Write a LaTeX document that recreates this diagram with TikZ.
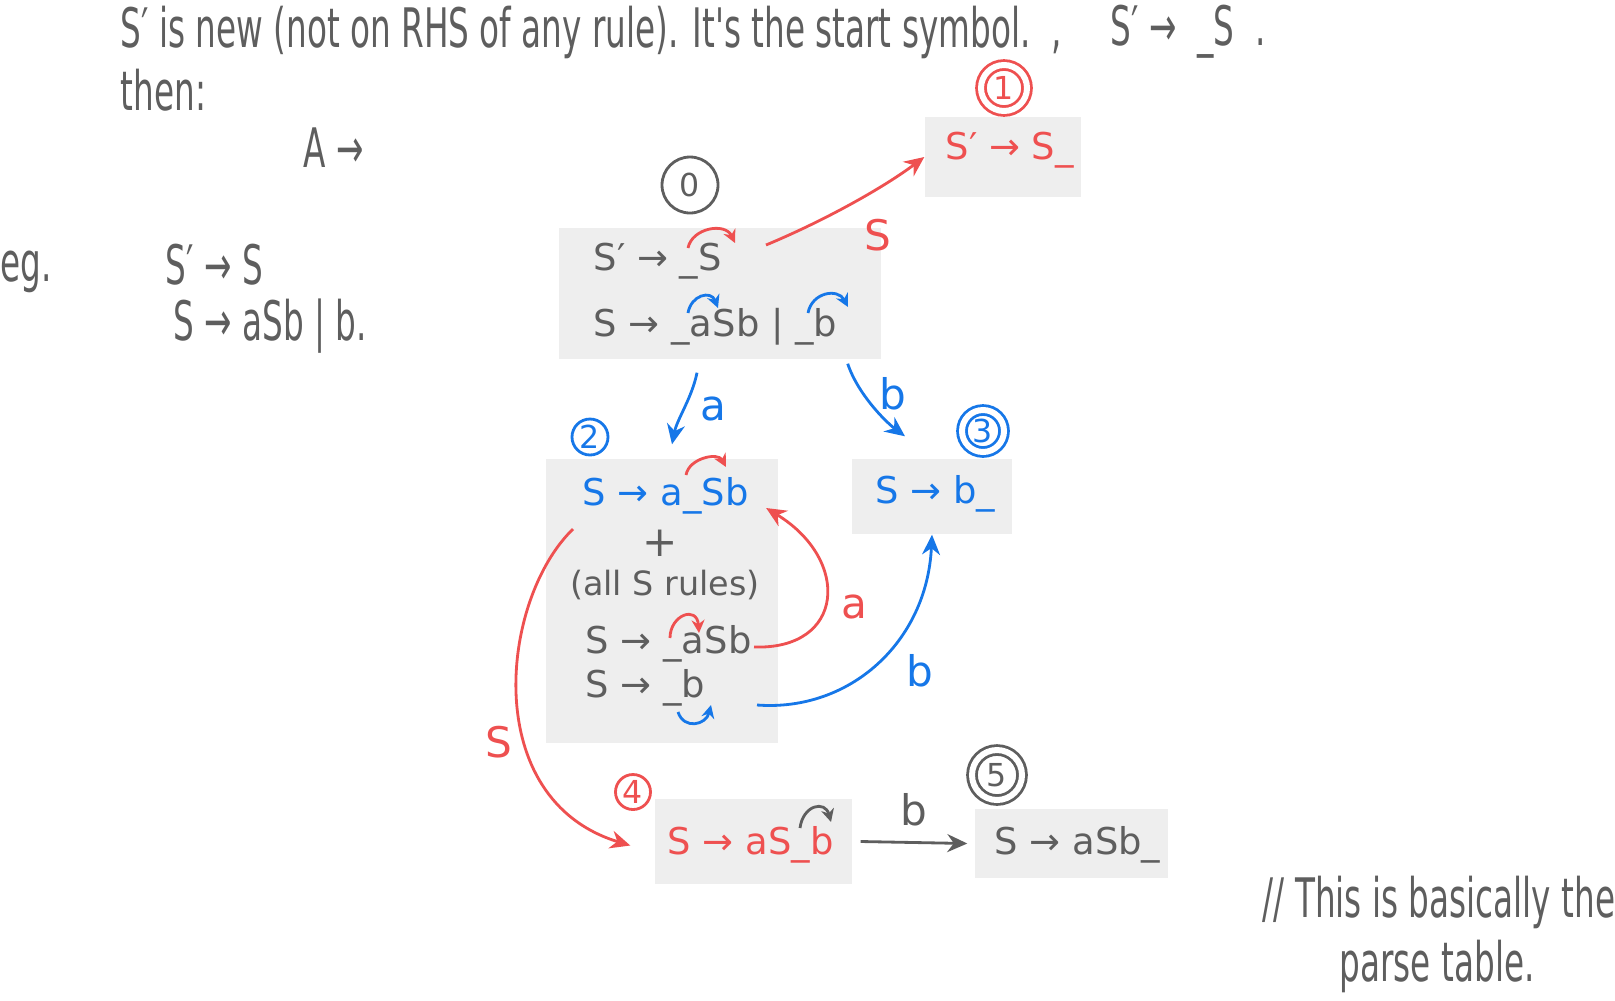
\documentclass[tikz,border=0pt]{standalone}
\usepackage{fontspec}
\setmainfont{DejaVu Sans}
\newfontfamily\notefont{DejaVu Sans}[FakeStretch=0.6]
\usetikzlibrary{positioning,arrows.meta}

\definecolor{ink}{HTML}{5E5E5E}
\definecolor{inkred}{HTML}{EE5050}
\definecolor{inkblue}{HTML}{1677E8}
\definecolor{itembg}{HTML}{EEEEEE}

\begin{document}
\begin{tikzpicture}[x=0.1mm, y=-0.1mm,
  >={Stealth[length=2mm, width=1.8mm]},
  itembox/.style={fill=itembg, inner sep=0pt},
  rule/.style={anchor=west, inner sep=0pt, font=\fontsize{10.5}{12}\selectfont},
  note/.style={anchor=west, inner sep=0pt, text=ink, font=\notefont\fontsize{15.5}{18}\selectfont},
  tag/.style={circle, draw, line width=0.8pt, inner sep=0pt, font=\fontsize{9}{10}\selectfont},
  dbltag/.style={tag, double, double distance=0.6mm},
  conn/.style={->, line width=0.8pt},
  lbl/.style={inner sep=0pt, font=\fontsize{12}{14}\selectfont},
  dotarc/.style={-{Stealth[length=1.3mm, width=1.3mm]}, line width=0.8pt}]
  \useasboundingbox (0,0) rectangle (1615,1000);

  % notes
  \node[note] (intro) at (120,32) {S′ is new (not on RHS of any rule). It's the start symbol.\ \ ,};
  \node[note] (augrule) at (1110,32) {S′\ →\ \ \_S\ \ .};
  \node[note] (then) at (120,90) {then:};
  \node[note] (itemform) at (303,148) {A →};
  \node[note] (eg) at (0,272) {eg.};
  \node[note] (gram1) at (165,265) {S′ → S};
  \node[note] (gram2) at (173,326) {S → aSb | b.};
  \node[note] (remark1) at (1262,902) {// This is basically the};
  \node[note] (remark2) at (1339,966) {parse table.};

  % item sets
  \node[itembox, minimum width=32.2mm, minimum height=13.1mm] (st0) at (720,293.5) {};
  \node[itembox, minimum width=15.6mm, minimum height=8mm] (st1) at (1003,157) {};
  \node[itembox, minimum width=23.2mm, minimum height=28.4mm] (st2) at (662,601) {};
  \node[itembox, minimum width=16mm, minimum height=7.5mm] (st3) at (932,496.5) {};
  \node[itembox, minimum width=19.7mm, minimum height=8.5mm] (st4) at (753.5,841.5) {};
  \node[itembox, minimum width=19.3mm, minimum height=6.9mm] (st5) at (1071.5,843.5) {};

  \node[rule, text=ink] (r0a) at (593,261) {S′ → \_S};
  \node[rule, text=ink] (r0b) at (593,327) {S → \_aSb | \_b};
  \node[rule, text=inkred] (r1) at (945,150) {S′ → S\_};
  \node[rule, text=inkblue] (r2a) at (582,496) {S → a\_Sb};
  \node[inner sep=0pt, text=ink, font=\fontsize{12}{14}\selectfont] (plus) at (660,543) {+};
  \node[inner sep=0pt, text=ink, font=\fontsize{9.5}{11}\selectfont] (allrules) at (665,585) {(all S rules)};
  \node[rule, text=ink] (r2b) at (585,644) {S → \_aSb};
  \node[rule, text=ink] (r2c) at (585,688) {S → \_b};
  \node[rule, text=inkblue] (r3) at (875,494) {S → b\_};
  \node[rule, text=inkred] (r4) at (667,845) {S → aS\_b};
  \node[rule, text=ink] (r5) at (994,845) {S → aSb\_};

  % state numbers
  \node[tag, ink, minimum size=5.6mm] (tag0) at (690,185) {0};
  \node[dbltag, inkred, minimum size=4.6mm] (tag1) at (1004,88) {1};
  \node[tag, inkblue, minimum size=3.6mm] (tag2) at (590,437) {2};
  \node[dbltag, inkblue, minimum size=4.2mm] (tag3) at (983,431) {3};
  \node[tag, inkred, minimum size=3.5mm] (tag4) at (633,792) {4};
  \node[dbltag, ink, minimum size=5mm] (tag5) at (997,775) {5};

  % dot moves
  \draw[dotarc, inkred] (688,248) .. controls (692,228) and (725,222) .. (735,243);
  \draw[dotarc, inkblue] (688,313) .. controls (691,295) and (711,290) .. (718,308);
  \draw[dotarc, inkblue] (808,313) .. controls (812,292) and (838,288) .. (848,307);
  \draw[dotarc, inkred] (686,475) .. controls (689,458) and (718,452) .. (726,467);
  \draw[dotarc, inkred] (670,638) .. controls (670,615) and (697,605) .. (699,633);
  \draw[dotarc, inkblue] (678,712) .. controls (684,730) and (706,725) .. (711,705);
  \draw[dotarc, ink] (800,828) .. controls (803,805) and (825,800) .. (831,822);

  % transitions
  \coordinate (out0S) at (766,245);
  \coordinate (out2a) at (754,647);
  \coordinate (out2b) at (757,705);
  \coordinate (out2S) at (573,529);

  \draw[conn, inkred] (out0S) .. controls +(60,-25) and +(-40,30) .. (st1.west)
    node[lbl, midway, below right=1.5mm and 1mm] (lblS1) {S};
  \draw[conn, inkblue] ([shift={(-23,13)}]st0.south) .. controls +(-5,25) and +(5,-25) .. ([shift={(10,-14)}]st2.north)
    node[lbl, midway, right=1.5mm] (lbla2) {a};
  \draw[conn, inkblue] ([shift={(-34,4)}]st0.south east) .. controls +(10,30) and +(-20,-15) .. ([shift={(-27,-22)}]st3.north)
    node[lbl, pos=0.35, right=1.5mm] (lblb3) {b};
  \draw[conn, inkred] (out2S) .. controls +(-73,71) and +(-151,-46) .. ([shift={(-24,4)}]st4.west)
    node[lbl, pos=0.62, left=1.2mm] (lblS4) {S};
  \draw[conn, inkred] (out2a) .. controls +(91,3) and +(85,52) .. ([shift={(17,12)}]r2a.east)
    node[lbl, pos=0.45, right=1.5mm] (lbla2b) {a};
  \draw[conn, inkblue] (out2b) .. controls +(93,7) and +(-5,107) .. (st3.south)
    node[lbl, pos=0.6, below right=1mm and 1mm] (lblb3b) {b};
  \draw[conn, ink] ([xshift=0.8mm]st4.east) -- ([xshift=-0.7mm]st5.west)
    node[lbl, midway, above=1.5mm] (lblb5) {b};
\end{tikzpicture}
\end{document}
